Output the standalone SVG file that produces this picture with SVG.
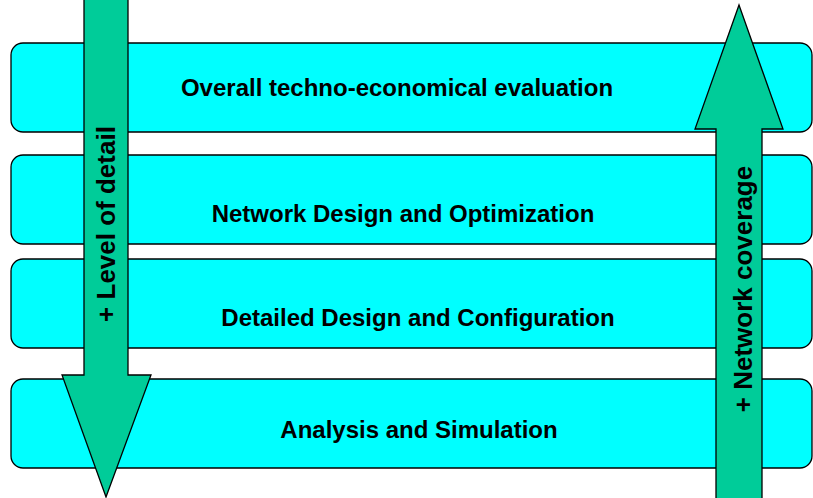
<svg xmlns="http://www.w3.org/2000/svg" width="813" height="498" viewBox="0 0 813 498">
<style>
.band{fill:#00FFFF;stroke:#000;stroke-width:1.3}
.arrow{fill:#00CC99;stroke:#000;stroke-width:1.3;stroke-linejoin:miter}
.lbl{font-family:"Liberation Sans",Arial,sans-serif;font-weight:bold;font-size:24px;fill:#000;text-anchor:middle}
.vlbl{font-family:"Liberation Sans",Arial,sans-serif;font-weight:bold;font-size:26px;fill:#000;text-anchor:middle}
</style>
<rect width="813" height="498" fill="#fff"/>
<g id="band1"><rect class="band" x="11" y="43" width="801" height="89" rx="12"/><text class="lbl" x="397" y="96">Overall techno-economical evaluation</text></g>
<g id="band2"><rect class="band" x="11" y="155" width="801" height="89" rx="12"/><text class="lbl" x="403" y="222">Network Design and Optimization</text></g>
<g id="band3"><rect class="band" x="11" y="259" width="801" height="89" rx="12"/><text class="lbl" x="418" y="326">Detailed Design and Configuration</text></g>
<g id="band4"><rect class="band" x="11" y="379" width="801" height="89" rx="12"/><text class="lbl" x="419" y="438">Analysis and Simulation</text></g>
<g id="connectors">
<g id="detail-arrow"><polygon class="arrow" points="84,-3 128,-3 128,375 151,375 106,497 62,375 84,375"/><text class="vlbl" transform="translate(115,224) rotate(-90)">+ Level of detail</text></g>
<g id="coverage-arrow"><polygon class="arrow" points="739,5 783,129 762,129 762,502 716,502 716,129 695,129"/><text class="vlbl" transform="translate(752,289) rotate(-90)">+ Network coverage</text></g>
</g>
</svg>
